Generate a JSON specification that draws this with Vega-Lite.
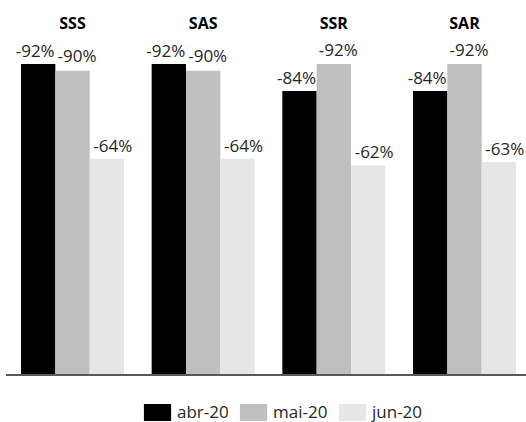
{
  "$schema": "https://vega.github.io/schema/vega-lite/v6.json",
  "width": 520,
  "height": 338,
  "autosize": "none",
  "padding": {"left": 6, "top": 37, "right": 0, "bottom": 47},
  "background": "white",
  "data": {
    "values": [
      {"grupo": "SSS", "mes": "abr-20", "var": -0.92},
      {"grupo": "SSS", "mes": "mai-20", "var": -0.90},
      {"grupo": "SSS", "mes": "jun-20", "var": -0.64},
      {"grupo": "SAS", "mes": "abr-20", "var": -0.92},
      {"grupo": "SAS", "mes": "mai-20", "var": -0.90},
      {"grupo": "SAS", "mes": "jun-20", "var": -0.64},
      {"grupo": "SSR", "mes": "abr-20", "var": -0.84},
      {"grupo": "SSR", "mes": "mai-20", "var": -0.92},
      {"grupo": "SSR", "mes": "jun-20", "var": -0.62},
      {"grupo": "SAR", "mes": "abr-20", "var": -0.84},
      {"grupo": "SAR", "mes": "mai-20", "var": -0.92},
      {"grupo": "SAR", "mes": "jun-20", "var": -0.63}
    ]
  },
  "encoding": {
    "x": {
      "field": "grupo",
      "type": "nominal",
      "sort": ["SSS", "SAS", "SSR", "SAR"],
      "scale": {"paddingInner": 0.2117, "paddingOuter": 0.0957, "align": 0.6},
      "axis": {
        "orient": "top",
        "title": null,
        "domain": false,
        "ticks": false,
        "tickSize": 0,
        "labelAngle": 0,
        "labelFont": "Open Sans",
        "labelFontWeight": "bold",
        "labelFontSize": 16,
        "labelColor": "#000000",
        "labelBaseline": "alphabetic",
        "labelPadding": 9
      }
    },
    "xOffset": {
      "field": "mes",
      "type": "nominal",
      "scale": {"domain": ["abr-20", "mai-20", "jun-20"], "paddingInner": 0, "paddingOuter": 0}
    },
    "y": {
      "field": "var",
      "type": "quantitative",
      "scale": {"domain": [-1, 0], "reverse": true, "nice": false},
      "axis": null
    }
  },
  "layer": [
    {
      "mark": {"type": "bar"},
      "encoding": {
        "color": {
          "field": "mes",
          "type": "nominal",
          "scale": {
            "domain": ["abr-20", "mai-20", "jun-20"],
            "range": ["#000000", "#bfbfbf", "#e6e6e6"]
          },
          "legend": {
            "title": null,
            "orient": "none",
            "direction": "horizontal",
            "legendX": 143,
            "legendY": 367,
            "symbolType": "M-1.6,-1H1.6V1H-1.6Z",
            "symbolSize": 289,
            "symbolStrokeWidth": 0,
            "symbolOpacity": 1,
            "labelFont": "Open Sans",
            "labelFontSize": 17,
            "labelColor": "#262626",
            "labelOffset": 11,
            "columnPadding": 10
          }
        }
      }
    },
    {
      "transform": [{"filter": "datum.mes == 'abr-20'"}],
      "mark": {"type": "text", "baseline": "alphabetic", "dx": -3, "dy": -7, "font": "Open Sans", "fontSize": 17, "color": "#262626"},
      "encoding": {"text": {"field": "var", "type": "quantitative", "format": ".0%"}}
    },
    {
      "transform": [{"filter": "datum.mes == 'mai-20'"}],
      "mark": {"type": "text", "baseline": "alphabetic", "dx": 4.5, "dy": -8.5, "font": "Open Sans", "fontSize": 17, "color": "#262626"},
      "encoding": {"text": {"field": "var", "type": "quantitative", "format": ".0%"}}
    },
    {
      "transform": [{"filter": "datum.mes == 'jun-20'"}],
      "mark": {"type": "text", "baseline": "alphabetic", "dx": 6, "dy": -7, "font": "Open Sans", "fontSize": 17, "color": "#262626"},
      "encoding": {"text": {"field": "var", "type": "quantitative", "format": ".0%"}}
    },
    {
      "mark": {"type": "rule", "color": "#595959", "strokeWidth": 2},
      "encoding": {"y": {"datum": 0}, "x": null, "xOffset": null}
    }
  ],
  "config": {
    "view": {"stroke": null},
    "locale": {
      "number": {
        "decimal": ",",
        "thousands": ".",
        "grouping": [3],
        "currency": ["R$", ""],
        "minus": "-"
      }
    }
  }
}
